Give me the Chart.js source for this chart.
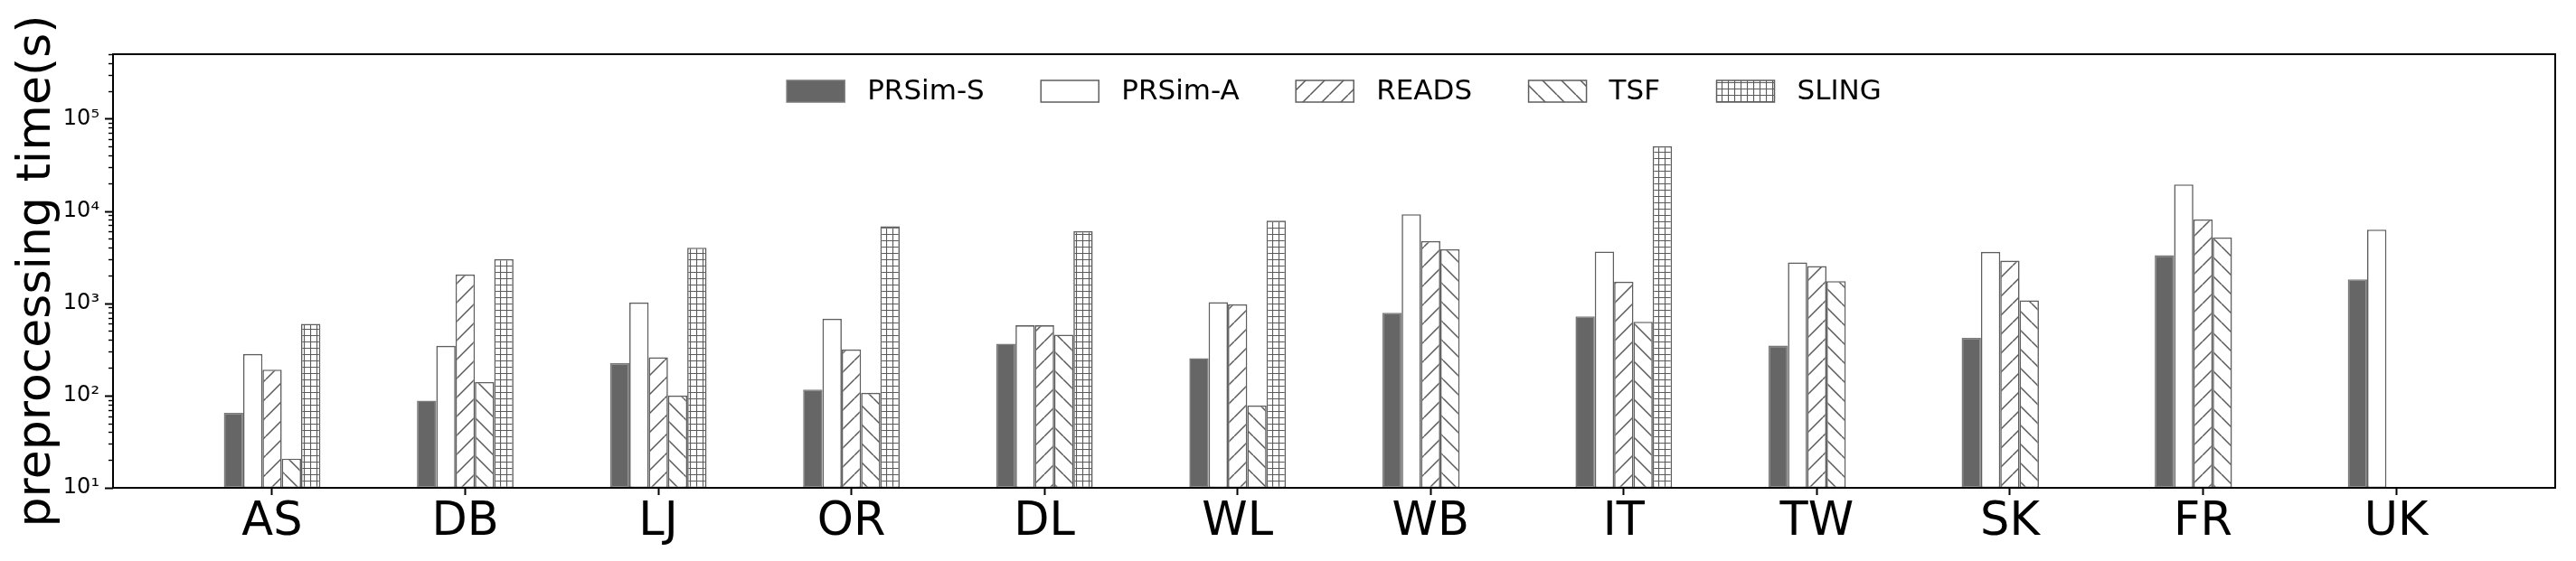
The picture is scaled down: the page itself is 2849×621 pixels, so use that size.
<!DOCTYPE html>
<html>
<head>
<meta charset="utf-8">
<title>preprocessing time</title>
<script src="https://cdn.jsdelivr.net/npm/chart.js@4.4.1/dist/chart.umd.min.js"></script>
<style>
  html, body { margin: 0; padding: 0; background: #ffffff; }
  #wrap { width: 2849px; height: 621px; position: relative; }
</style>
</head>
<body>
<div id="wrap"><canvas id="chart"></canvas></div>
<script>
// datasets on the x axis
const categories = ['AS', 'DB', 'LJ', 'OR', 'DL', 'WL', 'WB', 'IT', 'TW', 'SK', 'FR', 'UK'];

// preprocessing time in seconds
const prsimS = [65, 88, 225, 116, 365, 254, 790, 722, 348, 421, 3315, 1818];
const prsimA = [282, 346, 1019, 680, 577, 1028, 9200, 3630, 2770, 3600, 19360, 6280];
const reads = [191, 2050, 260, 316, 577, 975, 4720, 1711, 2530, 2895, 8100, null];
const tsf = [20.7, 140, 100, 107, 457, 78, 3850, 631, 1738, 1075, 5160, null];
const sling = [598, 3006, 4000, 6810, 6040, 7860, null, 50200, null, null, null, null];

const seriesNames = ['PRSim-S', 'PRSim-A', 'READS', 'TSF', 'SLING'];

// y axis
const yMin = 10;
const yMax = 500000;
const yMajorTicks = [10, 100, 1000, 10000, 100000];
const yTickLabels = ['10¹', '10²', '10³', '10⁴', '10⁵'];

const FONT = "'DejaVu Sans', 'Liberation Sans', sans-serif";
const EDGE = '#5e5e5e';

function makeHatch(kind) {
    const c = document.createElement('canvas');
    const p = kind === 'grid' ? 7 : 21;
    c.width = p;
    c.height = p;
    const g = c.getContext('2d');
    g.fillStyle = '#ffffff';
    g.fillRect(0, 0, p, p);
    g.strokeStyle = '#5a5a5a';
    g.lineWidth = 1.5;
    g.beginPath();
    if (kind === 'grid') {
        g.lineWidth = 1.2;
        g.moveTo(0.5, 0); g.lineTo(0.5, p);
        g.moveTo(0, 0.5); g.lineTo(p, 0.5);
    } else {
        for (const k of [-p, 0, p]) {
            if (kind === 'fwd') {
                g.moveTo(k, p); g.lineTo(k + p, 0);
            } else {
                g.moveTo(k, 0); g.lineTo(k + p, p);
            }
        }
    }
    g.stroke();
    return document.getElementById('chart').getContext('2d').createPattern(c, 'repeat');
}

function toPoints(values) {
    return values.map((v, i) => ({ x: i, y: v }));
}

const fills = ['#666666', '#ffffff', makeHatch('fwd'), makeHatch('back'), makeHatch('grid')];
const edges = ['#7a7a7a', EDGE, EDGE, EDGE, EDGE];
const seriesValues = [prsimS, prsimA, reads, tsf, sling];

const datasets = seriesNames.map((name, k) => ({
    label: name,
    data: toPoints(seriesValues[k]),
    backgroundColor: fills[k],
    borderColor: edges[k],
    borderWidth: 1.6,
    borderSkipped: false,
    categoryPercentage: 0.5,
    barPercentage: 1.0
}));

// frame, y tick marks and the legend inside the axes
const framePlugin = {
    id: 'frame',
    afterDraw(chart) {
        const { ctx, chartArea: a } = chart;
        const y = chart.scales.y;
        ctx.save();
        ctx.strokeStyle = '#000000';

        yMajorTicks.forEach(v => {
            for (let m = 1; m <= 9; m++) {
                const val = v * m;
                if (val > yMax) break;
                const py = Math.round(y.getPixelForValue(val)) + 0.5;
                ctx.lineWidth = m === 1 ? 2 : 1.4;
                const len = m === 1 ? 9 : 5;
                ctx.beginPath();
                ctx.moveTo(a.left - len, py);
                ctx.lineTo(a.left, py);
                ctx.stroke();
            }
        });

        ctx.lineWidth = 2;
        ctx.strokeRect(a.left, a.top, a.right - a.left, a.bottom - a.top);

        // legend
        ctx.font = '31px ' + FONT;
        const boxW = 64, boxH = 24, gapText = 25, gapItem = 62.5;
        const widths = seriesNames.map(n => boxW + gapText + ctx.measureText(n).width);
        const total = widths.reduce((s, w) => s + w, 0) + gapItem * (widths.length - 1);
        let x = (a.left + a.right) / 2 - total / 2;
        const cy = 101;
        chart.data.datasets.forEach((ds, k) => {
            ctx.fillStyle = ds.backgroundColor;
            ctx.fillRect(x, cy - boxH / 2, boxW, boxH);
            ctx.lineWidth = 1.5;
            ctx.strokeStyle = ds.borderColor;
            ctx.strokeRect(x, cy - boxH / 2, boxW, boxH);
            ctx.fillStyle = '#000000';
            ctx.textBaseline = 'middle';
            ctx.textAlign = 'left';
            ctx.fillText(ds.label, x + boxW + gapText, cy + 1);
            x += widths[k] + gapItem;
        });
        ctx.restore();
    }
};

new Chart(document.getElementById('chart'), {
    type: 'bar',
    data: { datasets: datasets },
    options: {
        responsive: true,
        maintainAspectRatio: false,
        animation: false,
        layout: { padding: { top: 60, right: 23, bottom: 0, left: 0 } },
        plugins: {
            legend: { display: false },
            tooltip: { enabled: false }
        },
        scales: {
            x: {
                type: 'linear',
                min: -0.824,
                max: categories.length - 1 + 0.824,
                offset: false,
                afterBuildTicks: scale => {
                    scale.ticks = categories.map((c, i) => ({ value: i }));
                },
                afterFit: scale => { scale.height = 81; },
                border: { display: false },
                grid: {
                    offset: false,
                    drawOnChartArea: false,
                    drawTicks: true,
                    tickLength: 8,
                    tickWidth: 2,
                    tickColor: '#000000'
                },
                ticks: {
                    autoSkip: false,
                    maxRotation: 0,
                    padding: 0,
                    color: '#000000',
                    font: { family: FONT, size: 51, lineHeight: 1.2 },
                    callback: value => categories[value]
                }
            },
            y: {
                type: 'logarithmic',
                min: yMin,
                max: yMax,
                afterBuildTicks: scale => {
                    scale.ticks = yMajorTicks.map(v => ({ value: v, major: true }));
                },
                afterFit: scale => { scale.width = 125; },
                border: { display: false },
                grid: { display: false, drawTicks: false },
                title: {
                    display: true,
                    text: 'preprocessing time(s)',
                    color: '#000000',
                    font: { family: FONT, size: 52, lineHeight: 1.0 },
                    padding: { top: 15, bottom: 0 }
                },
                ticks: {
                    autoSkip: false,
                    padding: 15,
                    color: '#000000',
                    font: { family: FONT, size: 24 },
                    callback: value => {
                        const i = yMajorTicks.indexOf(value);
                        return i >= 0 ? yTickLabels[i] : '';
                    }
                }
            }
        }
    },
    plugins: [framePlugin]
});
</script>
</body>
</html>
